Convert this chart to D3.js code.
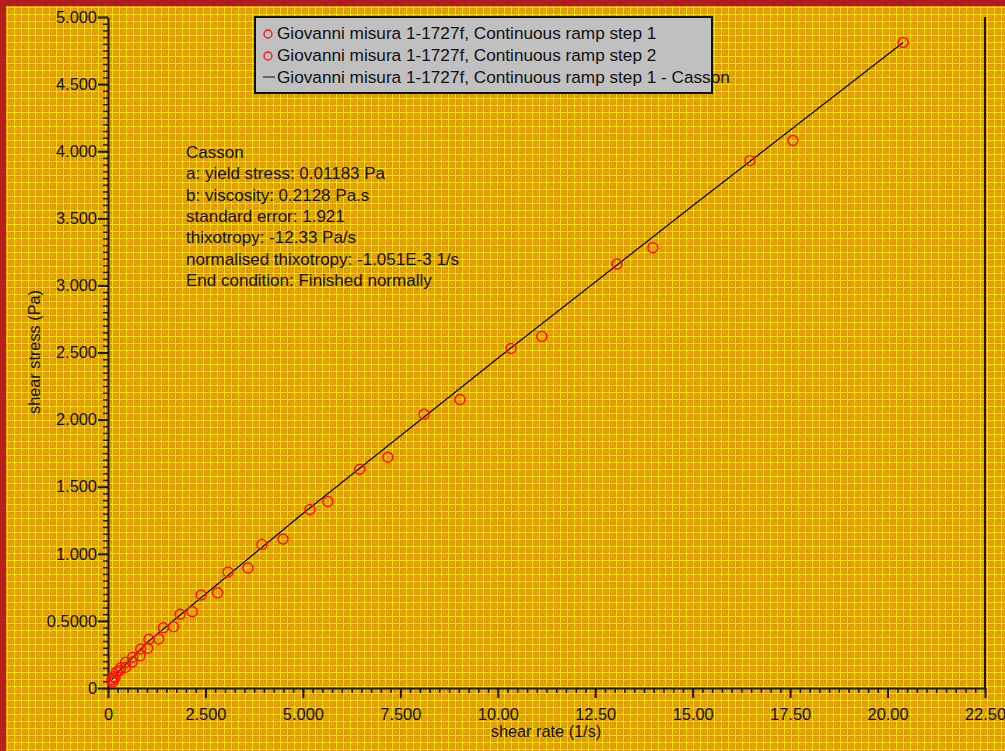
<!DOCTYPE html>
<meta charset="utf-8">
<style>
body { margin: 0; background: #e6ab00; }
svg { display: block; font-family: "Liberation Sans", Arial, sans-serif; }
.axis path, .axis line { stroke: #1a1a1a; }
.axis text { fill: #111; font-size: 16.4px; }
.note text { fill: #111; font-size: 17px; }
.legend text { fill: #111; font-size: 17.2px; }
</style>
<svg id="chart" width="1005" height="751"></svg>
<script src="https://cdn.jsdelivr.net/npm/d3@7"></script>
<script>
// ramp step 1 (shear rate, shear stress)
var step1Rate   = [0.10, 0.15, 0.22, 0.33, 0.45, 0.63, 0.84, 1.05, 1.42, 1.85, 2.39, 3.08, 3.95, 5.18, 6.46, 8.11, 10.34, 13.06, 16.47, 20.40];
var step1Stress = [0.062, 0.085, 0.12, 0.151, 0.192, 0.229, 0.291, 0.363, 0.449, 0.549, 0.693, 0.864, 1.07, 1.33, 1.63, 2.04, 2.53, 3.16, 3.93, 4.81];
// ramp step 2
var step2Rate   = [0.12, 0.18, 0.29, 0.45, 0.62, 0.82, 1.02, 1.30, 1.68, 2.16, 2.81, 3.59, 4.49, 5.64, 7.18, 9.03, 11.13, 13.98, 17.57];
var step2Stress = [0.045, 0.075, 0.129, 0.154, 0.194, 0.241, 0.296, 0.365, 0.457, 0.569, 0.710, 0.894, 1.11, 1.39, 1.72, 2.15, 2.62, 3.28, 4.08];
// casson fit line
var fitRate   = [0.095, 0.3, 0.6, 1.0, 2.0, 5.0, 10.0, 15.0, 20.40];
var fitStress = [0.063, 0.131, 0.217, 0.338, 0.579, 1.30, 2.457, 3.593, 4.81];

var xTicks = [0, 2.5, 5, 7.5, 10, 12.5, 15, 17.5, 20, 22.5];
var xTickLabels = ["0", "2.500", "5.000", "7.500", "10.00", "12.50", "15.00", "17.50", "20.00", "22.50"];
var yTicks = [0, 0.5, 1, 1.5, 2, 2.5, 3, 3.5, 4, 4.5, 5];
var yTickLabels = ["0", "0.5000", "1.000", "1.500", "2.000", "2.500", "3.000", "3.500", "4.000", "4.500", "5.000"];

var legendLabels = ["Giovanni misura 1-1727f, Continuous ramp step 1",
                    "Giovanni misura 1-1727f, Continuous ramp step 2",
                    "Giovanni misura 1-1727f, Continuous ramp step 1 - Casson"];
var noteLines = ["Casson", "a: yield stress: 0.01183 Pa", "b: viscosity: 0.2128 Pa.s",
                 "standard error: 1.921", "thixotropy: -12.33 Pa/s",
                 "normalised thixotropy: -1.051E-3 1/s", "End condition: Finished normally"];

var svg = d3.select("#chart");

// textured background
var defs = svg.append("defs");
var pat = defs.append("pattern").attr("id", "tex")
  .attr("width", 7).attr("height", 7).attr("patternUnits", "userSpaceOnUse");
pat.append("rect").attr("width", 7).attr("height", 7).attr("fill", "#da9600");
[[2,2],[4,2],[3,3],[5,3],[2,4],[4,4],[3,5],[5,5],[1,1],[6,6]].forEach(function(p) {
  pat.append("rect").attr("x", p[0]).attr("y", p[1]).attr("width", 1).attr("height", 1).attr("fill", "#ebb000");
});
pat.append("rect").attr("x", 0).attr("y", 0).attr("width", 1).attr("height", 7).attr("fill", "#ffdf00");
pat.append("rect").attr("x", 0).attr("y", 0).attr("width", 7).attr("height", 1).attr("fill", "#ffdf00");

svg.append("rect").attr("width", 1005).attr("height", 751).attr("fill", "url(#tex)");
svg.append("rect").attr("width", 1005).attr("height", 6).attr("fill", "#b01c20");
svg.append("rect").attr("width", 6).attr("height", 751).attr("fill", "#b8201c");

var x = d3.scaleLinear().domain([0, 22.5]).range([108, 985]);
var y = d3.scaleLinear().domain([0, 5]).range([688, 17]);

// minor ticks
var xMinor = d3.range(0, 91).map(function(i) { return i * 0.25; });
var yMinor = d3.range(0, 101).map(function(i) { return i * 0.05; });

svg.append("g").attr("class", "axis")
  .attr("transform", "translate(0,688)")
  .call(d3.axisBottom(x).tickValues(xMinor).tickSize(5).tickFormat(""))
  .call(function(g) { g.select(".domain").remove(); g.selectAll("line").attr("stroke-width", 1.5); });
svg.append("g").attr("class", "axis")
  .attr("transform", "translate(108,0)")
  .call(d3.axisLeft(y).tickValues(yMinor).tickSize(5).tickFormat(""))
  .call(function(g) { g.select(".domain").remove(); g.selectAll("line").attr("stroke-width", 1.5); });

var xAxis = svg.append("g").attr("class", "axis")
  .attr("transform", "translate(0,688)")
  .call(d3.axisBottom(x).tickValues(xTicks).tickSizeInner(10).tickSizeOuter(0).tickPadding(10)
        .tickFormat(function(d, i) { return xTickLabels[i]; }));
xAxis.select(".domain").attr("stroke-width", 2);
xAxis.selectAll("line").attr("stroke-width", 2);
xAxis.selectAll("text").attr("font-family", null).attr("font-size", null);

var yAxis = svg.append("g").attr("class", "axis")
  .attr("transform", "translate(108,0)")
  .call(d3.axisLeft(y).tickValues(yTicks).tickSizeInner(10).tickSizeOuter(0).tickPadding(1)
        .tickFormat(function(d, i) { return yTickLabels[i]; }));
yAxis.select(".domain").attr("stroke-width", 2);
yAxis.selectAll("line").attr("stroke-width", 2);
yAxis.selectAll("text").attr("font-family", null).attr("font-size", null);

// right frame line
svg.append("line").attr("x1", x(22.5)).attr("x2", x(22.5)).attr("y1", y(5)).attr("y2", y(0))
  .attr("stroke", "#1a1a1a").attr("stroke-width", 2);

// axis titles
svg.append("text").attr("x", 546).attr("y", 737).attr("text-anchor", "middle")
  .style("font-size", "16.3px").attr("fill", "#111").text("shear rate (1/s)");
svg.append("text").attr("transform", "translate(40,352) rotate(-90)").attr("text-anchor", "middle")
  .style("font-size", "16.3px").attr("fill", "#111").text("shear stress (Pa)");

// fit line
var fit = fitRate.map(function(d, i) { return [d, fitStress[i]]; });
svg.append("path").datum(fit)
  .attr("d", d3.line().x(function(d) { return x(d[0]); }).y(function(d) { return y(d[1]); }))
  .attr("fill", "none").attr("stroke", "#000").attr("stroke-width", 1.2);

// points
function drawPoints(rate, stress) {
  svg.append("g").selectAll("circle")
    .data(rate.map(function(d, i) { return [d, stress[i]]; }))
    .enter().append("circle")
    .attr("cx", function(d) { return x(d[0]); })
    .attr("cy", function(d) { return y(d[1]); })
    .attr("r", 5)
    .attr("fill", "none").attr("stroke", "#ff1010").attr("stroke-width", 1.4);
}
drawPoints(step1Rate, step1Stress);
drawPoints(step2Rate, step2Stress);

// annotation
var note = svg.append("g").attr("class", "note");
note.selectAll("text").data(noteLines).enter().append("text")
  .attr("x", 186).attr("y", function(d, i) { return 158 + i * 21.3; })
  .text(function(d) { return d; });

// legend
var legend = svg.append("g").attr("class", "legend");
legend.append("rect").attr("x", 255).attr("y", 17).attr("width", 457).attr("height", 76)
  .attr("fill", "#c0c0c0").attr("stroke", "#111").attr("stroke-width", 2);
legend.selectAll("text").data(legendLabels).enter().append("text")
  .attr("x", 277).attr("y", function(d, i) { return 39 + i * 22; })
  .text(function(d) { return d; });
legend.selectAll("circle").data(legendLabels.slice(0, 2)).enter().append("circle")
  .attr("cx", 268).attr("cy", function(d, i) { return 34 + i * 22; }).attr("r", 4)
  .attr("fill", "none").attr("stroke", "#ff1010").attr("stroke-width", 1.3);
legend.append("line").attr("x1", 263).attr("x2", 275).attr("y1", 77).attr("y2", 77)
  .attr("stroke", "#111").attr("stroke-width", 1);
</script>
